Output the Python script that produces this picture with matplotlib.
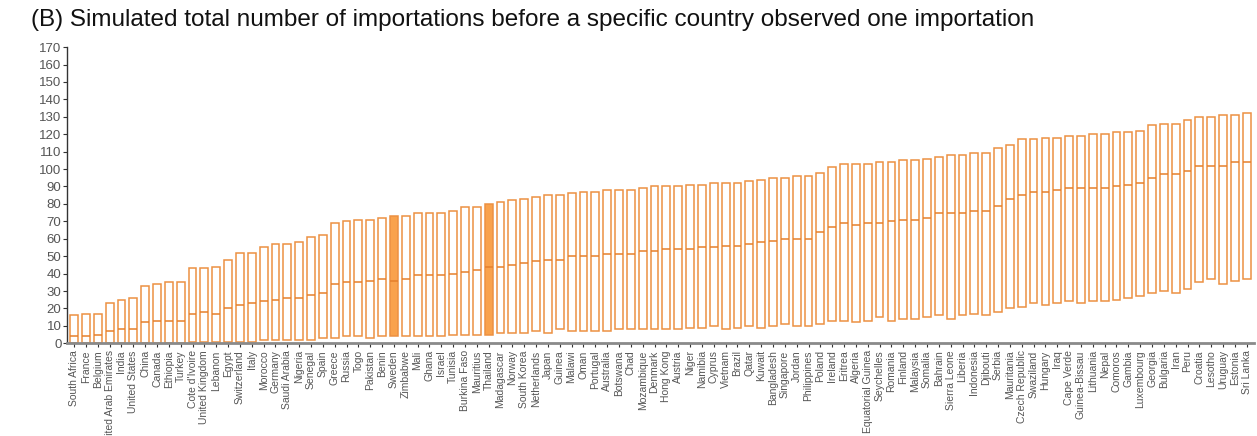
import matplotlib
matplotlib.use("Agg")
import matplotlib.pyplot as plt
import numpy as np

countries = ["South Africa", "France", "Belgium", "United Arab Emirates", "India", "United States",
             "China", "Canada", "Ethiopia", "Turkey", "Cote d'Ivoire", "United Kingdom", "Lebanon",
             "Egypt", "Switzerland", "Italy", "Morocco", "Germany", "Saudi Arabia", "Nigeria",
             "Senegal", "Spain", "Greece", "Russia", "Togo", "Pakistan", "Benin", "Sweden",
             "Zimbabwe", "Mali", "Ghana", "Israel", "Tunisia", "Burkina Faso", "Mauritius",
             "Thailand", "Madagascar", "Norway", "South Korea", "Netherlands", "Japan", "Guinea",
             "Malawi", "Oman", "Portugal", "Australia", "Botswana", "Chad", "Mozambique", "Denmark",
             "Hong Kong", "Austria", "Niger", "Namibia", "Cyprus", "Vietnam", "Brazil", "Qatar",
             "Kuwait", "Bangladesh", "Singapore", "Jordan", "Philippines", "Poland", "Ireland",
             "Eritrea", "Algeria", "Equatorial Guinea", "Seychelles", "Romania", "Finland",
             "Malaysia", "Somalia", "Bahrain", "Sierra Leone", "Liberia", "Indonesia", "Djibouti",
             "Serbia", "Mauritania", "Czech Republic", "Swaziland", "Hungary", "Iraq", "Cape Verde",
             "Guinea-Bissau", "Lithuania", "Nepal", "Comoros", "Gambia", "Luxembourg", "Georgia",
             "Bulgaria", "Iran", "Peru", "Croatia", "Lesotho", "Uruguay", "Estonia", "Sri Lanka"]

low = [0, 0, 0, 0, 0, 0, 0, 0, 0, 0, 1, 1, 1, 1, 1, 1, 2, 2, 2, 2,
       2, 3, 3, 4, 4, 3, 4, 4, 4, 4, 4, 4, 5, 5, 5, 5, 6, 6, 6, 7,
       6, 8, 7, 7, 7, 7, 8, 8, 8, 8, 8, 8, 9, 9, 10, 8, 9, 10, 9, 10,
       11, 10, 10, 11, 13, 13, 12, 13, 15, 13, 14, 14, 15, 16, 14, 16, 17, 16, 18, 20,
       21, 23, 22, 23, 24, 23, 24, 24, 25, 26, 27, 29, 30, 29, 31, 35, 37, 34, 36, 37]

median = [4, 4, 5, 7, 8, 8, 12, 13, 13, 13, 17, 18, 17, 20, 22, 23, 24, 25, 26, 26,
          28, 29, 34, 35, 35, 36, 37, 36, 37, 39, 39, 39, 40, 41, 42, 44, 44, 45, 46, 47,
          48, 48, 50, 50, 50, 51, 51, 51, 53, 53, 54, 54, 54, 55, 55, 56, 56, 57, 58, 59,
          60, 60, 60, 64, 67, 69, 68, 69, 69, 70, 71, 71, 72, 75, 75, 75, 76, 76, 79, 83,
          85, 87, 87, 88, 89, 89, 89, 89, 90, 91, 92, 95, 97, 97, 99, 102, 102, 102, 104, 104]

high = [16, 17, 17, 23, 25, 26, 33, 34, 35, 35, 43, 43, 44, 48, 52, 52, 55, 57, 57, 58,
        61, 62, 69, 70, 71, 71, 72, 73, 73, 75, 75, 75, 76, 78, 78, 80, 81, 82, 83, 84,
        85, 85, 86, 87, 87, 88, 88, 88, 89, 90, 90, 90, 91, 91, 92, 92, 92, 93, 94, 95,
        95, 96, 96, 98, 101, 103, 103, 103, 104, 104, 105, 105, 106, 107, 108, 108, 109, 109, 112, 114,
        117, 117, 118, 118, 119, 119, 120, 120, 121, 121, 122, 125, 126, 126, 128, 130, 130, 131, 131, 132]

highlight = ["Sweden", "Thailand"]
yticks = list(range(0, 171, 10))

plt.rcParams['font.family'] = ['Liberation Sans', 'DejaVu Sans']

fig = plt.figure(figsize=(12.57, 4.36), dpi=100)
ax = fig.add_axes([0.0533, 0.2126, 0.9447, 0.6794])

x = np.arange(len(countries))
low_a = np.array(low)
high_a = np.array(high)
med_a = np.array(median)
width = 0.66
edge = '#EC9142'
for i, c in enumerate(countries):
    hl = c in highlight
    ax.bar(x[i], high_a[i] - low_a[i], bottom=low_a[i], width=width,
           facecolor='#F9A24C' if hl else 'white', edgecolor=edge, linewidth=1.1, zorder=2)
    ax.plot([x[i] - width / 2, x[i] + width / 2], [med_a[i], med_a[i]],
            color='#E5802C', linewidth=1.1, zorder=3, solid_capstyle='butt')

ax.set_xlim(-0.6, 99.65)
ax.set_ylim(0, 170)
ax.set_yticks(yticks)
ax.set_yticklabels([str(v) for v in yticks], fontsize=9.5, color='#555555')
ax.set_xticks(x)
ax.set_xticklabels(countries, rotation=90, fontsize=7.5, color='#555555')
ax.tick_params(axis='x', length=3, width=0.8, color='#333333', pad=2)
ax.tick_params(axis='y', length=3, width=0.8, color='#333333', pad=1)

for s in ['top', 'right']:
    ax.spines[s].set_visible(False)
ax.spines['left'].set_color('#333333')
ax.spines['left'].set_linewidth(1.0)
ax.spines['bottom'].set_color('#8a8a8a')
ax.spines['bottom'].set_linewidth(2.0)

fig.text(0.025, 0.953, "(B) Simulated total number of importations before a specific country observed one importation",
         fontsize=17.5, color='#111111', ha='left', va='center')

fig.savefig("out.png", dpi=100)
